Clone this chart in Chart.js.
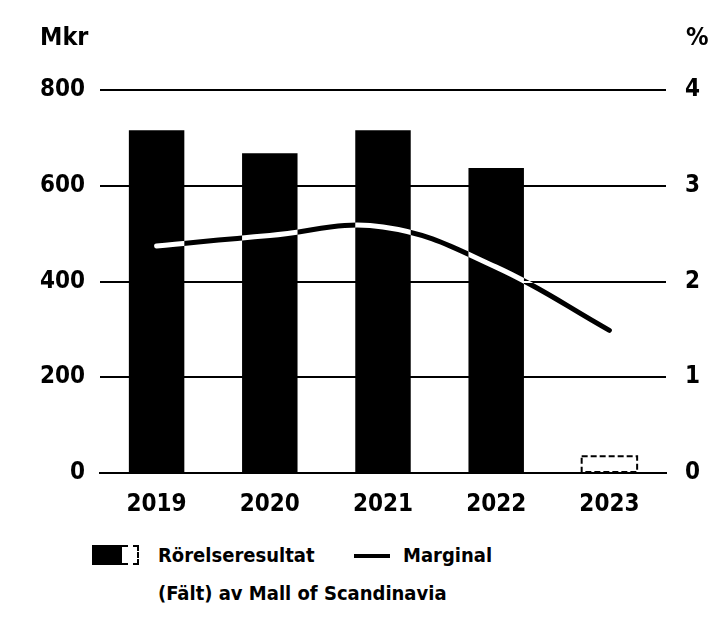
<!DOCTYPE html>
<html><head><meta charset="utf-8">
<script src="https://cdn.jsdelivr.net/npm/chart.js@4.4.1/dist/chart.umd.min.js"></script>
<style>
html,body{margin:0;padding:0;background:#fff;width:713px;height:618px;overflow:hidden;font-family:"DejaVu Sans Condensed","DejaVu Sans",sans-serif;font-weight:bold;color:#000}
#wrap{position:absolute;left:0;top:0;width:713px;height:530px}
.t{position:absolute;font-size:25px;line-height:26px}
.leg{position:absolute;font-size:20px;line-height:22px;white-space:nowrap}
</style></head><body>
<div id="wrap"><canvas id="c" width="713" height="530"></canvas></div>
<div class="t" style="left:40px;top:24px">Mkr</div>
<div class="t" style="left:686px;top:24px">%</div>
<div class="leg" style="left:92px;top:544px">
  <span style="position:absolute;left:0;top:1px;width:30px;height:20px;background:#000"></span>
  <span style="position:absolute;left:30px;top:1px;width:15px;height:16px;border:2px dashed #000;border-left:none"></span>
  <span style="position:absolute;left:66px;top:0">Rörelseresultat</span>
  <span style="position:absolute;left:262px;top:10px;width:36px;height:4px;background:#000"></span>
  <span style="position:absolute;left:311px;top:0">Marginal</span>
</div>
<div class="leg" style="left:158px;top:582px">(Fält) av Mall of Scandinavia</div>
<script>
const categories = ["2019","2020","2021","2022","2023"];
const operatingProfit = [716, 668, 716, 637, 35];
const margin = [2.37, 2.48, 2.57, 2.15, 1.49];
const leftTicks = [0, 200, 400, 600, 800];
const rightTicks = [0, 1, 2, 3, 4];

const FONT = {family:"'DejaVu Sans Condensed','DejaVu Sans',sans-serif", size:24, weight:'bold'};

const plugin = {
  id:'custom',
  beforeDraw(chart){
    const ctx = chart.ctx;
    ctx.save(); ctx.fillStyle='#fff'; ctx.fillRect(0,0,chart.width,chart.height); ctx.restore();
  },
  beforeDatasetDraw(chart, args){
    if (args.meta.type === 'line') {
      chart.ctx.save();
      chart.ctx.globalCompositeOperation = 'difference';
    }
  },
  afterDatasetDraw(chart, args){
    if (args.meta.type === 'bar') {
      const el = args.meta.data[4];
      const ctx = chart.ctx;
      ctx.save();
      ctx.strokeStyle = '#000'; ctx.lineWidth = 2; ctx.setLineDash([6,3]);
      const w = el.width;
      ctx.strokeRect(el.x - w/2, el.y, w, el.base - el.y);
      ctx.restore();
    }
    if (args.meta.type === 'line') chart.ctx.restore();
  }
};

new Chart(document.getElementById('c'), {
  data:{
    labels: categories,
    datasets:[
      {type:'line', label:'Marginal', data: margin, yAxisID:'y1', borderColor:'#fff', borderWidth:5,
       tension:0.4, pointRadius:0, order:0, borderCapStyle:'round'},
      {type:'bar', label:'Rörelseresultat', data: operatingProfit, yAxisID:'y',
       backgroundColor:['#000','#000','#000','#000','rgba(0,0,0,0)'], borderWidth:0,
       barPercentage:0.49, categoryPercentage:1.0, order:1}
    ]
  },
  options:{
    responsive:false, animation:false, devicePixelRatio:1,
    layout:{padding:{top:90, left:0, right:0, bottom:0}},
    plugins:{legend:{display:false}, tooltip:{enabled:false}},
    scales:{
      x:{
        grid:{display:false, drawTicks:false},
        border:{display:true, color:'#000', width:2},
        ticks:{color:'#000', font:FONT, padding:17},
        afterFit(s){ s.height = 57; }
      },
      y:{
        position:'left', min:0, max:800,
        afterBuildTicks(s){ s.ticks = leftTicks.map(v=>({value:v})); },
        grid:{color:'#000', lineWidth:2, drawTicks:false},
        border:{display:false},
        ticks:{color:'#000', font:FONT, padding:15},
        afterFit(s){ s.width = 100; }
      },
      y1:{
        position:'right', min:0, max:4,
        afterBuildTicks(s){ s.ticks = rightTicks.map(v=>({value:v})); },
        grid:{drawOnChartArea:false, drawTicks:false},
        border:{display:false},
        ticks:{color:'#000', font:FONT, padding:19},
        afterFit(s){ s.width = 47; }
      }
    }
  },
  plugins:[plugin]
});
</script>
</body></html>
